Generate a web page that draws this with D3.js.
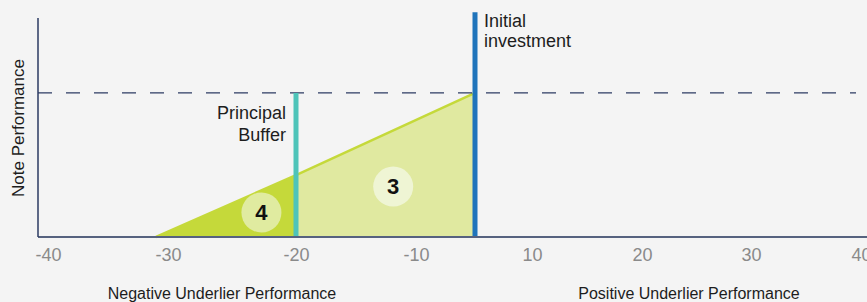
<!DOCTYPE html>
<html>
<head>
<meta charset="utf-8">
<script src="https://cdn.jsdelivr.net/npm/d3@7"></script>
<style>
  body { margin: 0; background: #f4f4f4; }
  svg { display: block; font-family: "Liberation Sans", Arial, sans-serif; }
</style>
</head>
<body>
<div id="chart"></div>
<script>
// chart data
var tickValues = [-40, -30, -20, -10, 10, 20, 30, 40];
var payoffX = [-31, -20, 0];        // underlier performance
var payoffY = [0, 43, 100];         // note performance
var initialLevel = 100;
var bufferLevel = -20;
var investmentX = 0;
var investmentTop = 156;
var zoneLabels = [
  { name: "4", x: -22.7, y: 17 },
  { name: "3", x: -11.9, y: 35 }
];
var sideLabels = ["Negative Underlier Performance", "Positive Underlier Performance"];

var svgWidth = 867;
var svgHeight = 302;

var svg = d3.select("#chart").append("svg")
  .attr("width", svgWidth)
  .attr("height", svgHeight);

// x axis is hand spaced in the original, so use a piecewise scale
var x = d3.scaleLinear()
  .domain([-40, -30, -20, -10, 0, 10, 20, 30, 40])
  .range([48, 168, 296, 416, 475, 532, 642, 751, 861]);

var y = d3.scaleLinear()
  .domain([0, 152])
  .range([237, 18]);

var pts = payoffX.map(function (d, i) { return [d, payoffY[i]]; });

var area = d3.area()
  .x(function (d) { return x(d[0]); })
  .y0(y(0))
  .y1(function (d) { return y(d[1]); });

// light zone (within buffer)
svg.append("path")
  .attr("d", area(pts.slice(1)))
  .attr("fill", "#e0e9a0");

// dark zone (beyond buffer)
svg.append("path")
  .attr("d", area(pts.slice(0, 2)))
  .attr("fill", "#c5d93a");

svg.append("path")
  .attr("d", d3.line().x(function (d) { return x(d[0]); }).y(function (d) { return y(d[1]); })(pts))
  .attr("fill", "none")
  .attr("stroke", "#c5d93a")
  .attr("stroke-width", 2.5);

// dashed initial level
svg.append("line")
  .attr("x1", 38).attr("x2", 856)
  .attr("y1", y(initialLevel)).attr("y2", y(initialLevel))
  .attr("stroke", "#2d3b63")
  .attr("stroke-width", 1.3)
  .attr("stroke-dasharray", "14,14");

// buffer line
svg.append("line")
  .attr("x1", x(bufferLevel)).attr("x2", x(bufferLevel))
  .attr("y1", y(0)).attr("y2", y(initialLevel))
  .attr("stroke", "#4ec4b9")
  .attr("stroke-width", 5);

// initial investment line
svg.append("line")
  .attr("x1", x(investmentX)).attr("x2", x(investmentX))
  .attr("y1", y(0)).attr("y2", y(investmentTop))
  .attr("stroke", "#1f74bb")
  .attr("stroke-width", 5);

// axes
svg.append("line")
  .attr("x1", 38).attr("x2", svgWidth)
  .attr("y1", y(0)).attr("y2", y(0))
  .attr("stroke", "#56627f").attr("stroke-width", 2);

svg.append("line")
  .attr("x1", 38).attr("x2", 38)
  .attr("y1", y(0)).attr("y2", y(152))
  .attr("stroke", "#2d3b63").attr("stroke-width", 1.5);

var xAxis = d3.axisBottom(x)
  .tickValues(tickValues)
  .tickFormat(function (d) { return String(d); })
  .tickSize(0)
  .tickPadding(11);
var gx = svg.append("g").attr("transform", "translate(0," + y(0) + ")").call(xAxis);
gx.select(".domain").remove();
gx.selectAll("text")
  .attr("fill", "#8a8a8a")
  .style("font-size", "18px")
  .style("font-family", "'Liberation Sans', Arial, sans-serif");

// zone markers
var zones = svg.selectAll(".zone").data(zoneLabels).enter().append("g")
  .attr("transform", function (d) { return "translate(" + x(d.x) + "," + y(d.y) + ")"; });

zones.append("circle")
  .attr("r", 20)
  .attr("fill", function (d) { return d.name === "4" ? "#e0eba0" : "#eff5d4"; });

zones.append("text")
  .attr("text-anchor", "middle")
  .attr("dy", "0.36em")
  .style("font-size", "22px")
  .style("font-weight", "bold")
  .attr("fill", "#111")
  .text(function (d) { return d.name; });

// annotations
var note = svg.append("text")
  .attr("y", 27)
  .style("font-size", "18px").attr("fill", "#1d1d1d");
note.append("tspan").attr("x", x(investmentX) + 9).text("Initial");
note.append("tspan").attr("x", x(investmentX) + 9).attr("dy", 20).text("investment");

var buf = svg.append("text")
  .attr("text-anchor", "end")
  .attr("y", 119)
  .style("font-size", "18px").attr("fill", "#1d1d1d");
buf.append("tspan").attr("x", x(bufferLevel) - 10).text("Principal");
buf.append("tspan").attr("x", x(bufferLevel) - 10).attr("dy", 22).text("Buffer");

svg.append("text")
  .attr("transform", "translate(24,128) rotate(-90)")
  .attr("text-anchor", "middle")
  .style("font-size", "17px")
  .attr("fill", "#1d1d1d")
  .text("Note Performance");

svg.selectAll(".side").data(sideLabels).enter().append("text")
  .attr("x", function (d, i) { return i === 0 ? 222 : 689; })
  .attr("y", 299)
  .attr("text-anchor", "middle")
  .style("font-size", "16px")
  .attr("fill", "#1d1d1d")
  .text(function (d) { return d; });
</script>
</body>
</html>
